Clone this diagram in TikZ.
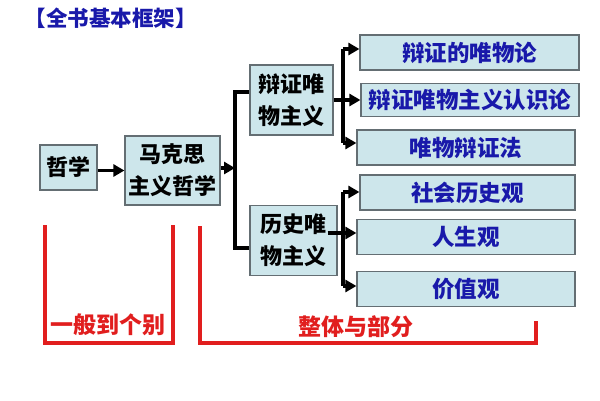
\documentclass[tikz,border=0pt]{standalone}
\usepackage{fontspec}
\usepackage{tikz}
\usetikzlibrary{positioning,arrows.meta,calc}
\usepackage{xcolor}
\newfontfamily\cjk{Noto Sans CJK SC}
\definecolor{boxfill}{RGB}{205,230,235}
\definecolor{boxline}{RGB}{100,110,115}
\definecolor{textblue}{RGB}{25,25,170}
\definecolor{redmark}{RGB}{225,30,30}

\tikzset{
  box/.style={draw=boxline,fill=boxfill,line width=1.2pt,inner sep=0pt,align=center,
    font=\cjk\bfseries\fontsize{22}{32}\selectfont},
  rbox/.style={box,text=textblue,minimum width=218,minimum height=35,
    font=\cjk\bfseries\fontsize{22.5}{26}\selectfont},
  conn/.style={line width=3.6pt},
  arr/.style={conn,-{Triangle[length=11pt,width=12pt]}},
  redline/.style={draw=redmark,line width=3.4pt},
  redtext/.style={text=redmark,font=\cjk\bfseries\fontsize{23}{26}\selectfont},
}

\begin{document}
\begin{tikzpicture}[x=1pt,y=-1pt]
\useasboundingbox[fill=white] (0,0) rectangle (600,400);
% title
\node[text=textblue,font=\cjk\bfseries\fontsize{21.5}{24}\selectfont] (title) at (110.5,18) {【全书基本框架】};
% left boxes
\node[box,minimum width=57,minimum height=45] (zx) at (68.5,167.5) {哲学};
\node[box,minimum width=95,minimum height=69] (mk) at (172.5,170.5) {马克思\\主义哲学};
\node[box,minimum width=83,minimum height=70] (bz) at (291.5,100) {辩证唯\\物主义};
\node[box,minimum width=87,minimum height=70] (ls) at (293.5,240.5) {历史唯\\物主义};
% right boxes
\node[rbox,minimum width=219] (wl) at (469.5,52.5) {辩证的唯物论};
\node[rbox,minimum height=33] (rs) at (470,100) {辩证唯物主义认识论};
\node[rbox] (bf) at (466,147.5) {唯物辩证法};
\node[rbox,minimum width=215] (sh) at (467.5,192.5) {社会历史观};
\node[rbox] (rsg) at (466,237) {人生观};
\node[rbox] (jz) at (466,289) {价值观};
% junctions
\coordinate (j1) at (235,168);
\coordinate (j1t) at (235,92);
\coordinate (j1b) at (235,248);
\coordinate (j2t) at (343,49);
\coordinate (j2b) at (343,143);
\coordinate (j3t) at (343,192);
\coordinate (j3m) at (343,233);
\coordinate (j3b) at (343,286);
% connectors
\draw[arr] (zx.east |- mk.west) -- (mk.west);
\draw[arr] (mk.east |- j1) -- (j1);
\draw[conn] (bz.west |- j1t) -- (j1t) -- (j1b) -- (ls.west |- j1b);
\draw[conn] (j2t) -- (j2b);
\draw[arr] (j2t) -- (wl.west |- j2t);
\draw[arr] (bz.east |- rs.west) -- (rs.west);
\draw[arr] (j2b) -- (bf.west |- j2b);
\draw[conn] (j3t) -- (j3b);
\draw[arr] (j3t) -- (sh.west |- j3t);
\draw[arr] ([xshift=-10pt]ls.east |- j3m) -- (rsg.west |- j3m);
\draw[arr] (j3b) -- (jz.west |- j3b);
% red brackets
\draw[redline] (45,225) -- (45,343) -- (173,343) -- (173,225);
\draw[redline] (200,226) -- (200,343) -- (536,343) -- (536,321);
\node[redtext] (ybgb) at (107.5,325) {一般到个别};
\node[redtext] (ztbf) at (356,327) {整体与部分};
\end{tikzpicture}
\end{document}
